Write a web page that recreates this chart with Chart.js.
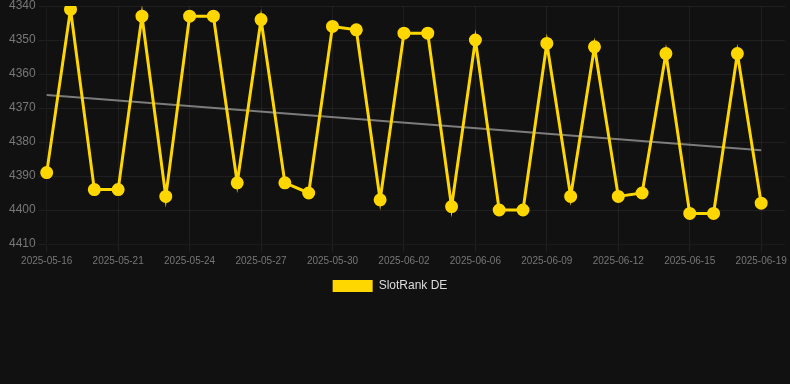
<!DOCTYPE html>
<html>
<head>
<meta charset="utf-8">
<script src="https://cdn.jsdelivr.net/npm/chart.js@4"></script>
<style>
  html, body { margin: 0; padding: 0; background: #111111; }
  .wrap { width: 790px; height: 302px; }
</style>
</head>
<body>
<div class="wrap"><canvas id="rankChart"></canvas></div>
<script>
// --- Data ---
const dates = [
  '2025-05-16', '2025-05-17', '2025-05-19', '2025-05-21', '2025-05-22', '2025-05-23',
  '2025-05-24', '2025-05-25', '2025-05-26', '2025-05-27', '2025-05-28', '2025-05-29',
  '2025-05-30', '2025-05-31', '2025-06-01', '2025-06-02', '2025-06-03', '2025-06-05',
  '2025-06-06', '2025-06-07', '2025-06-08', '2025-06-09', '2025-06-10', '2025-06-11',
  '2025-06-12', '2025-06-13', '2025-06-14', '2025-06-15', '2025-06-16', '2025-06-18',
  '2025-06-19', '2025-06-20'
];
const rankDE = [
  4389, 4341, 4394, 4394, 4343, 4396, 4343, 4343, 4392, 4344, 4392, 4395,
  4346, 4347, 4397, 4348, 4348, 4399, 4350, 4400, 4400, 4351, 4396, 4352,
  4396, 4395, 4354, 4401, 4401, 4354, 4398, null
];
// trend line end points
const trendStart = 4366.2;
const trendEnd = 4382.4;
const yTicks = { min: 4340, max: 4410, step: 10 };

const lastIdx = rankDE.length - 2;
const trendData = dates.map((d, i) => i === 0 ? trendStart : (i === lastIdx ? trendEnd : null));

const gridColor = 'rgba(255,255,255,0.06)';

// nudge the legend a little to the left, like the original page
const legendShift = {
  id: 'legendShift',
  afterLayout(chart) {
    chart.legend.left -= 8;
    chart.legend.right -= 8;
  }
};

const ctx = document.getElementById('rankChart').getContext('2d');
new Chart(ctx, {
  type: 'line',
  data: {
    labels: dates,
    datasets: [
      {
        label: 'SlotRank DE',
        data: rankDE,
        borderColor: '#ffd700',
        backgroundColor: '#ffd700',
        borderWidth: 3,
        pointRadius: 5,
        pointHoverRadius: 6,
        tension: 0
      },
      {
        label: 'Trend',
        data: trendData,
        borderColor: 'rgba(170,170,170,0.7)',
        borderWidth: 2,
        pointRadius: 0,
        spanGaps: true
      }
    ]
  },
  plugins: [legendShift],
  options: {
    responsive: true,
    maintainAspectRatio: false,
    animation: false,
    layout: { autoPadding: false, padding: { left: 6 } },
    plugins: {
      legend: {
        position: 'bottom',
        labels: {
          color: '#dddddd',
          font: { size: 12 },
          boxWidth: 40,
          boxHeight: 12,
          padding: 10,
          // thin box outline, hide the trend entry
          generateLabels: chart => Chart.defaults.plugins.legend.labels.generateLabels(chart)
            .filter(item => item.text !== 'Trend')
            .map(item => ({ ...item, lineWidth: 0 }))
        }
      }
    },
    scales: {
      x: {
        grid: { color: gridColor },
        ticks: { color: '#777777', font: { size: 10 }, maxRotation: 0, autoSkip: true, autoSkipPadding: 16 },
        afterFit: s => { s.paddingRight = 5; s.paddingLeft = 0; }
      },
      y: {
        reverse: true,
        min: yTicks.min,
        max: yTicks.max,
        grid: { color: gridColor },
        ticks: {
          color: '#777777',
          font: { size: 12 },
          stepSize: yTicks.step,
          callback: v => String(v)
        },
        afterFit: s => { s.paddingTop = 6; }
      }
    }
  }
});
</script>
</body>
</html>
